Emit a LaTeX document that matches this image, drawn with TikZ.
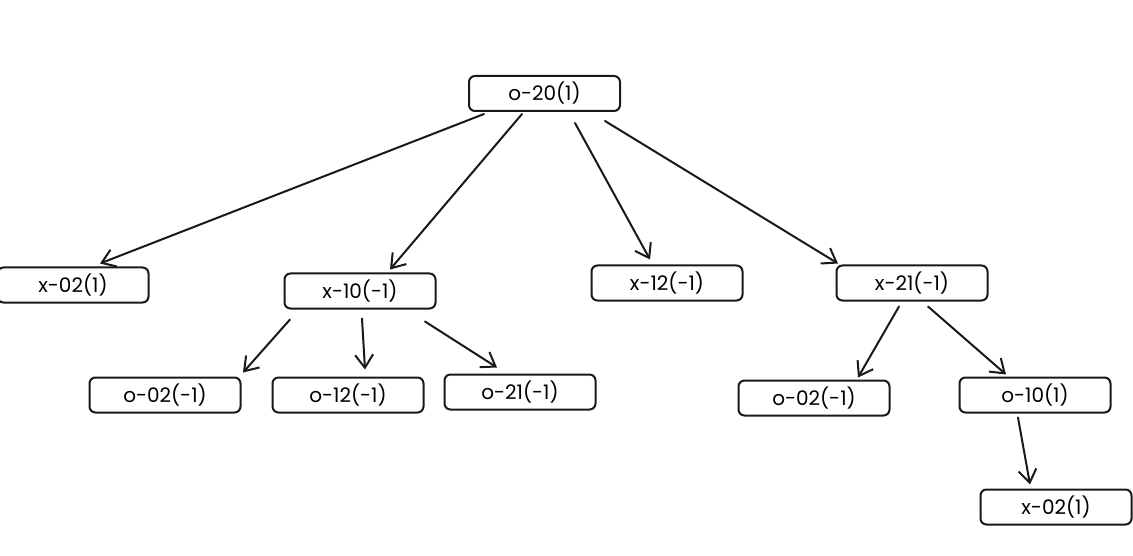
\documentclass[tikz,border=0pt]{standalone}
\usepackage{fontspec}
\setmainfont{Poppins}
\usetikzlibrary{arrows.meta,calc}
\tikzset{
  state/.style={draw=black!90, line width=2pt, rounded corners=6pt, fill=white,
    minimum width=151pt, minimum height=35pt, inner sep=0pt,
    font=\fontsize{20}{24}\selectfont},
  arr/.style={draw=black!90, line width=2pt, line cap=round,
    -{Straight Barb[length=13pt,width=18pt,line width=2pt]}}
}
\begin{document}
\begin{tikzpicture}[x=1pt,y=-1pt]
\useasboundingbox (0,0) rectangle (1133,556);
\fill[white] (0,0) rectangle (1133,556);
% game tree nodes
\node[state] (root) at (544.5,93.5) {o-20(1)};
\node[state] (xa)   at (73,285)    {x-02(1)};
\node[state] (xb)   at (360,291)   {x-10(-1)};
\node[state] (xc)   at (667,283)   {x-12(-1)};
\node[state] (xd)   at (912,283)   {x-21(-1)};
\node[state] (oa)   at (165,395)   {o-02(-1)};
\node[state] (ob)   at (348,395)   {o-12(-1)};
\node[state] (oc)   at (520,392)   {o-21(-1)};
\node[state] (od)   at (814,398)   {o-02(-1)};
\node[state] (oe)   at (1035,395)  {o-10(1)};
\node[state] (xe)   at (1056,507)  {x-02(1)};
% moves
\draw[arr] ($(root.south west)+(16,2)$)  -- ($(xa.north)+(27,-3)$);
\draw[arr] ($(root.south west)+(54,2)$)  -- ($(xb.north)+(30,-3)$);
\draw[arr] ($(root.south west)+(107,11)$) -- ($(xc.north)+(-17,-5)$);
\draw[arr] ($(root.south west)+(137,9)$) -- ($(xd.north)+(-74,-1)$);
\draw[arr] ($(xb.south)+(-70,10)$) -- ($(oa.north)+(78,-4)$);
\draw[arr] ($(xb.south)+(2,9)$)    -- ($(ob.north)+(17,-7)$);
\draw[arr] ($(xb.south)+(65,12)$)  -- ($(oc.north)+(-23,-6)$);
\draw[arr] ($(xd.south)+(-13,5)$)  -- ($(od.north)+(44,-2)$);
\draw[arr] ($(xd.south)+(16,5)$)   -- ($(oe.north)+(-29,-2)$);
\draw[arr] ($(oe.south)+(-17,4)$)  -- ($(xe.north)+(-26,-4)$);
\end{tikzpicture}
\end{document}
